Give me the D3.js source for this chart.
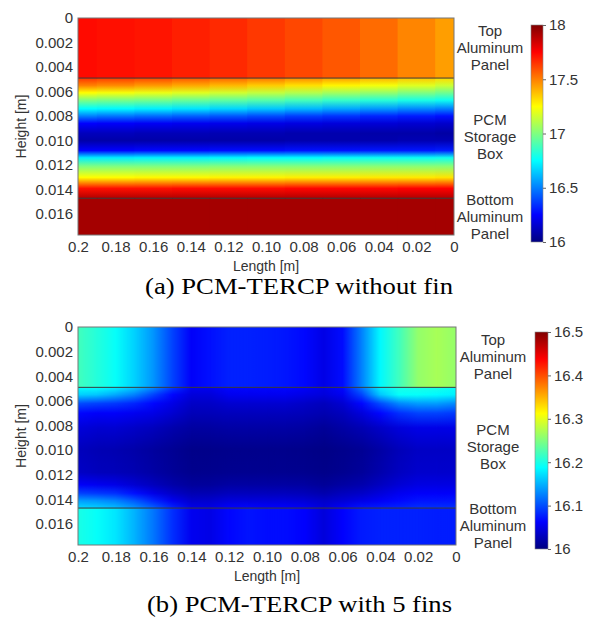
<!DOCTYPE html>
<html>
<head>
<meta charset="utf-8">
<script src="https://cdn.jsdelivr.net/npm/d3@7"></script>
<style>
body { margin: 0; background: #fff; }
text { font-family: "Liberation Sans", Arial, sans-serif; fill: #333; }
.caption { font-family: "Liberation Serif", "Times New Roman", serif; fill: #000; }
</style>
</head>
<body>
<script>
// ---- data ----
var xTicks = [0.2, 0.18, 0.16, 0.14, 0.12, 0.10, 0.08, 0.06, 0.04, 0.02, 0];
var xTickLabels = ["0.2", "0.18", "0.16", "0.14", "0.12", "0.10", "0.08", "0.06", "0.04", "0.02", "0"];
var yTicks = [0, 0.002, 0.004, 0.006, 0.008, 0.010, 0.012, 0.014, 0.016];
var yTickLabels = ["0", "0.002", "0.004", "0.006", "0.008", "0.010", "0.012", "0.014", "0.016"];
var panelBounds = [0.0049, 0.0147];
var layerNames = [["Top", "Aluminum", "Panel"], ["PCM", "Storage", "Box"], ["Bottom", "Aluminum", "Panel"]];

// (a) without fin
var lengthsA = [0.2, 0.18, 0.16, 0.14, 0.12, 0.10, 0.08, 0.06, 0.04, 0.02, 0];
var topPanelA = [17.73, 17.72, 17.71, 17.69, 17.67, 17.64, 17.61, 17.58, 17.54, 17.49, 17.44];
var bottomPanelA = [17.93, 17.93, 17.93, 17.93, 17.93, 17.93, 17.93, 17.93, 17.93, 17.93, 17.93];
var pcmHeightsA = [0.0049, 0.0055, 0.0061, 0.0067, 0.0074, 0.0080, 0.0086, 0.0094, 0.0100, 0.0108, 0.0114, 0.0121, 0.0130, 0.0139, 0.0147];
var pcmTempA = [
	[17.65, 17.63, 17.61, 17.58, 17.55, 17.52, 17.48, 17.44, 17.40, 17.36, 17.32],
	[17.50, 17.48, 17.45, 17.42, 17.39, 17.35, 17.31, 17.27, 17.23, 17.19, 17.15],
	[17.25, 17.23, 17.21, 17.19, 17.16, 17.13, 17.10, 17.07, 17.04, 17.00, 16.97],
	[17.00, 16.99, 16.98, 16.96, 16.94, 16.92, 16.89, 16.86, 16.83, 16.80, 16.78],
	[16.75, 16.74, 16.72, 16.70, 16.67, 16.64, 16.61, 16.58, 16.55, 16.52, 16.50],
	[16.50, 16.48, 16.46, 16.44, 16.42, 16.40, 16.37, 16.35, 16.32, 16.30, 16.28],
	[16.25, 16.24, 16.23, 16.22, 16.21, 16.20, 16.19, 16.18, 16.17, 16.16, 16.15],
	[16.12, 16.12, 16.11, 16.11, 16.10, 16.10, 16.09, 16.09, 16.08, 16.08, 16.07],
	[16.08, 16.08, 16.08, 16.08, 16.08, 16.08, 16.09, 16.09, 16.09, 16.10, 16.10],
	[16.25, 16.25, 16.26, 16.26, 16.27, 16.27, 16.28, 16.28, 16.29, 16.29, 16.30],
	[16.72, 16.72, 16.73, 16.73, 16.74, 16.75, 16.75, 16.76, 16.77, 16.77, 16.78],
	[17.00, 17.00, 17.00, 17.00, 17.01, 17.01, 17.01, 17.01, 17.02, 17.02, 17.02],
	[17.25, 17.25, 17.26, 17.26, 17.27, 17.27, 17.28, 17.28, 17.29, 17.29, 17.30],
	[17.72, 17.72, 17.72, 17.73, 17.73, 17.73, 17.74, 17.74, 17.74, 17.75, 17.75],
	[17.90, 17.90, 17.90, 17.90, 17.90, 17.90, 17.90, 17.90, 17.90, 17.90, 17.90]
];
var cbarTicksA = [16, 16.5, 17, 17.5, 18];
var cbarLabelsA = ["16", "16.5", "17", "17.5", "18"];

// (b) with 5 fins
var lengthsB = [0.2, 0.19, 0.18, 0.17, 0.16, 0.15, 0.14, 0.13, 0.12, 0.11, 0.10, 0.09, 0.08, 0.07, 0.06, 0.05, 0.04, 0.03, 0.02, 0.01, 0];
var topPanelB = [16.22, 16.205, 16.19, 16.165, 16.135, 16.095, 16.06, 16.07, 16.078, 16.078, 16.076, 16.073, 16.066, 16.05, 16.068, 16.125, 16.185, 16.22, 16.26, 16.27, 16.26];
var bottomPanelB = [16.2, 16.19, 16.175, 16.15, 16.12, 16.085, 16.055, 16.05, 16.065, 16.072, 16.068, 16.068, 16.062, 16.045, 16.062, 16.075, 16.078, 16.078, 16.078, 16.076, 16.076];
var pcmHeightsB = [0.0049, 0.0055, 0.0062, 0.0070, 0.0082, 0.0100, 0.0118, 0.0128, 0.0135, 0.0141, 0.0147];
var pcmTempB = [
	[16.19, 16.19, 16.18, 16.16, 16.13, 16.09, 16.055, 16.055, 16.065, 16.065, 16.065, 16.065, 16.06, 16.05, 16.065, 16.12, 16.18, 16.2, 16.2, 16.2, 16.19],
	[16.165, 16.16, 16.145, 16.125, 16.095, 16.065, 16.045, 16.045, 16.055, 16.055, 16.055, 16.055, 16.05, 16.045, 16.055, 16.095, 16.16, 16.19, 16.19, 16.185, 16.18],
	[16.1, 16.095, 16.09, 16.08, 16.065, 16.05, 16.035, 16.035, 16.04, 16.04, 16.04, 16.04, 16.035, 16.03, 16.04, 16.065, 16.1, 16.13, 16.14, 16.14, 16.13],
	[16.065, 16.06, 16.06, 16.055, 16.05, 16.04, 16.028, 16.028, 16.03, 16.03, 16.03, 16.03, 16.028, 16.024, 16.03, 16.045, 16.065, 16.085, 16.095, 16.095, 16.09],
	[16.045, 16.04, 16.04, 16.035, 16.03, 16.022, 16.016, 16.016, 16.018, 16.018, 16.018, 16.018, 16.016, 16.012, 16.018, 16.025, 16.035, 16.045, 16.05, 16.05, 16.05],
	[16.03, 16.026, 16.024, 16.02, 16.015, 16.01, 16.005, 16.005, 16.006, 16.006, 16.006, 16.006, 16.005, 16.003, 16.006, 16.01, 16.018, 16.028, 16.034, 16.034, 16.034],
	[16.035, 16.03, 16.028, 16.024, 16.018, 16.012, 16.007, 16.007, 16.008, 16.008, 16.008, 16.008, 16.007, 16.005, 16.008, 16.013, 16.022, 16.032, 16.038, 16.038, 16.038],
	[16.06, 16.055, 16.05, 16.04, 16.03, 16.02, 16.014, 16.014, 16.017, 16.017, 16.017, 16.017, 16.016, 16.012, 16.017, 16.022, 16.032, 16.042, 16.048, 16.048, 16.048],
	[16.095, 16.09, 16.085, 16.07, 16.05, 16.035, 16.025, 16.025, 16.03, 16.03, 16.03, 16.03, 16.028, 16.022, 16.03, 16.035, 16.045, 16.055, 16.06, 16.06, 16.06],
	[16.14, 16.135, 16.125, 16.105, 16.08, 16.055, 16.038, 16.038, 16.045, 16.045, 16.045, 16.045, 16.042, 16.036, 16.042, 16.05, 16.058, 16.066, 16.072, 16.072, 16.072],
	[16.17, 16.165, 16.155, 16.135, 16.11, 16.08, 16.052, 16.05, 16.062, 16.065, 16.062, 16.062, 16.058, 16.045, 16.06, 16.072, 16.076, 16.08, 16.085, 16.085, 16.085]
];
var cbarTicksB = [16, 16.1, 16.2, 16.3, 16.4, 16.5];
var cbarLabelsB = ["16", "16.1", "16.2", "16.3", "16.4", "16.5"];

// ---- colormap (MATLAB jet) ----
var jetStops = [0, 0.125, 0.375, 0.625, 0.875, 1];
var jetColors = ["#000080", "#0000ff", "#00ffff", "#ffff00", "#ff0000", "#800000"];

function jetScale(lo, hi){
	return d3.scaleLinear()
		.domain(jetStops.map(function(t){ return lo + t * (hi - lo); }))
		.range(jetColors)
		.interpolate(d3.interpolateRgb)
		.clamp(true);
}

// one column of the map: top panel, PCM gradient, bottom panel
function drawColumn(g, cfg, x, y, color, i, xa, w){
	var H = cfg.heights;
	var y0 = y(H[0]), y1 = y(H[H.length - 1]);
	g.append("rect")
		.attr("x", xa).attr("y", y(0))
		.attr("width", w).attr("height", y0 - y(0) + 0.5)
		.attr("fill", color(cfg.topPanel[i]));
	g.append("rect")
		.attr("x", xa).attr("y", y0)
		.attr("width", w).attr("height", y1 - y0 + 0.5)
		.attr("fill", "url(#" + cfg.id + "g" + i + ")");
	g.append("rect")
		.attr("x", xa).attr("y", y1)
		.attr("width", w).attr("height", y(0.0177) - y1)
		.attr("fill", color(cfg.bottomPanel[i]));
}

function drawMap(svg, cfg){
	var x = d3.scaleLinear().domain([0.2, 0]).range([cfg.left, cfg.right]);
	var y = d3.scaleLinear().domain([0, 0.0177]).range([cfg.top, cfg.bottom]);
	var color = jetScale(cfg.min, cfg.max);
	var L = cfg.lengths;
	var H = cfg.heights;
	var y0 = y(H[0]), y1 = y(H[H.length - 1]);

	var defs = svg.append("defs");
	defs.selectAll("linearGradient.col")
		.data(L)
		.enter()
		.append("linearGradient")
		.attr("class", "col")
		.attr("id", function(d, i){ return cfg.id + "g" + i; })
		.attr("gradientUnits", "userSpaceOnUse")
		.attr("x1", 0).attr("x2", 0)
		.attr("y1", y0).attr("y2", y1)
		.selectAll("stop")
		.data(function(d, i){
			return H.map(function(h, j){ return {h: h, v: cfg.temps[j][i]}; });
		})
		.enter()
		.append("stop")
		.attr("offset", function(d){ return (y(d.h) - y0) / (y1 - y0); })
		.attr("stop-color", function(d){ return color(d.v); });

	var g = svg.append("g");
	if(cfg.smooth){
		// blend neighbouring columns across each interval
		for(var i = 0; i < L.length - 1; i++){
			var xa = x(L[i]), xb = x(L[i + 1]);
			var ramp = defs.append("linearGradient")
				.attr("id", cfg.id + "r" + i)
				.attr("gradientUnits", "userSpaceOnUse")
				.attr("x1", xa).attr("x2", xb)
				.attr("y1", 0).attr("y2", 0);
			ramp.append("stop").attr("offset", 0).attr("stop-color", "#000");
			ramp.append("stop").attr("offset", 1).attr("stop-color", "#fff");
			defs.append("mask")
				.attr("id", cfg.id + "m" + i)
				.attr("maskUnits", "userSpaceOnUse")
				.attr("x", xa - 1).attr("y", cfg.top - 1)
				.attr("width", xb - xa + 2).attr("height", cfg.bottom - cfg.top + 2)
				.append("rect")
				.attr("x", xa - 1).attr("y", cfg.top - 1)
				.attr("width", xb - xa + 2).attr("height", cfg.bottom - cfg.top + 2)
				.attr("fill", "url(#" + cfg.id + "r" + i + ")");
			var w = xb - xa + (i === L.length - 2 ? 0 : 0.8);
			drawColumn(g.append("g"), cfg, x, y, color, i, xa, w);
			drawColumn(g.append("g").attr("mask", "url(#" + cfg.id + "m" + i + ")"),
				cfg, x, y, color, i + 1, xa, w);
		}
	} else {
		L.forEach(function(v, i){
			var a = i === 0 ? v : (L[i - 1] + v) / 2;
			var b = i === L.length - 1 ? v : (L[i + 1] + v) / 2;
			var xa = x(a);
			var w = x(b) - xa + (i === L.length - 1 ? 0 : 0.8);
			drawColumn(g, cfg, x, y, color, i, xa, w);
		});
	}

	// layer boundaries
	svg.selectAll(null)
		.data(panelBounds)
		.enter()
		.append("line")
		.attr("x1", cfg.left).attr("x2", cfg.right)
		.attr("y1", function(d){ return y(d); })
		.attr("y2", function(d){ return y(d); })
		.attr("stroke", "#3a3a3a")
		.attr("stroke-width", 1);

	svg.append("rect")
		.attr("x", cfg.left).attr("y", cfg.top)
		.attr("width", cfg.right - cfg.left).attr("height", cfg.bottom - cfg.top)
		.attr("fill", "none")
		.attr("stroke", "#777")
		.attr("stroke-width", 1);

	// axes
	var yAxis = svg.append("g")
		.attr("transform", "translate(" + cfg.left + ",0)")
		.call(d3.axisLeft(y).tickValues(yTicks).tickSize(0).tickPadding(5)
			.tickFormat(function(d, i){ return yTickLabels[i]; }));
	var xAxis = svg.append("g")
		.attr("transform", "translate(0," + cfg.bottom + ")")
		.call(d3.axisBottom(x).tickValues(xTicks).tickSize(0).tickPadding(6)
			.tickFormat(function(d, i){ return xTickLabels[i]; }));
	[yAxis, xAxis].forEach(function(ax){
		ax.select(".domain").remove();
		ax.selectAll("text")
			.attr("fill", "#333")
			.style("font-size", "15px")
			.style("font-family", "'Liberation Sans', Arial, sans-serif");
	});

	svg.append("text")
		.attr("x", (cfg.left + cfg.right) / 2)
		.attr("y", cfg.bottom + 36)
		.attr("text-anchor", "middle")
		.style("font-size", "14px")
		.text("Length [m]");

	svg.append("text")
		.attr("transform", "translate(26," + (cfg.top + cfg.bottom) / 2 + ") rotate(-90)")
		.attr("text-anchor", "middle")
		.style("font-size", "14px")
		.text("Height [m]");

	// layer names
	layerNames.forEach(function(lines, k){
		var t = svg.append("text")
			.attr("text-anchor", "middle")
			.style("font-size", "15px");
		lines.forEach(function(s, j){
			t.append("tspan")
				.attr("x", cfg.labelX)
				.attr("y", cfg.labelY[k] + j * 17)
				.text(s);
		});
	});

	// colorbar
	var c = d3.scaleLinear().domain([cfg.min, cfg.max]).range([cfg.cbBottom, cfg.cbTop]);
	var cg = defs.append("linearGradient")
		.attr("id", cfg.id + "cb")
		.attr("x1", 0).attr("x2", 0).attr("y1", 1).attr("y2", 0);
	cg.selectAll("stop")
		.data(jetStops)
		.enter()
		.append("stop")
		.attr("offset", function(d){ return d; })
		.attr("stop-color", function(d, i){ return jetColors[i]; });

	svg.append("rect")
		.attr("x", cfg.cbX).attr("y", cfg.cbTop)
		.attr("width", cfg.cbW).attr("height", cfg.cbBottom - cfg.cbTop)
		.attr("fill", "url(#" + cfg.id + "cb)")
		.attr("stroke", "#888")
		.attr("stroke-width", 0.6);

	var cAxis = svg.append("g")
		.attr("transform", "translate(" + (cfg.cbX + cfg.cbW) + ",0)")
		.call(d3.axisRight(c).tickValues(cfg.cbTicks).tickSize(3).tickPadding(3)
			.tickFormat(function(d, i){ return cfg.cbLabels[i]; }));
	cAxis.select(".domain").remove();
	cAxis.selectAll("line").attr("stroke", "#666");
	cAxis.selectAll("text")
		.attr("fill", "#333")
		.style("font-size", "15px")
		.style("font-family", "'Liberation Sans', Arial, sans-serif");

	svg.append("text")
		.attr("class", "caption")
		.attr("x", cfg.capX)
		.attr("y", cfg.capY)
		.attr("textLength", cfg.capW)
		.attr("lengthAdjust", "spacingAndGlyphs")
		.style("font-size", "22.5px")
		.text(cfg.caption);
}

function plotAll(){
	var svg = d3.select("body").append("svg")
		.attr("width", 589)
		.attr("height", 619);

	drawMap(svg, {
		id: "a", left: 78, right: 454, top: 18, bottom: 235,
		min: 16, max: 18, smooth: false,
		lengths: lengthsA, heights: pcmHeightsA, temps: pcmTempA,
		topPanel: topPanelA, bottomPanel: bottomPanelA,
		labelX: 490, labelY: [36, 125, 205],
		cbX: 531, cbW: 12, cbTop: 25, cbBottom: 242,
		cbTicks: cbarTicksA, cbLabels: cbarLabelsA,
		capX: 145, capY: 294, capW: 308,
		caption: "(a) PCM-TERCP without fin"
	});

	drawMap(svg, {
		id: "b", left: 78, right: 456, top: 327, bottom: 545,
		min: 16, max: 16.5, smooth: true,
		lengths: lengthsB, heights: pcmHeightsB, temps: pcmTempB,
		topPanel: topPanelB, bottomPanel: bottomPanelB,
		labelX: 493, labelY: [345, 435, 514],
		cbX: 535, cbW: 13, cbTop: 332, cbBottom: 549,
		cbTicks: cbarTicksB, cbLabels: cbarLabelsB,
		capX: 147, capY: 612, capW: 305,
		caption: "(b) PCM-TERCP with 5 fins"
	});
}

plotAll();
</script>
</body>
</html>
